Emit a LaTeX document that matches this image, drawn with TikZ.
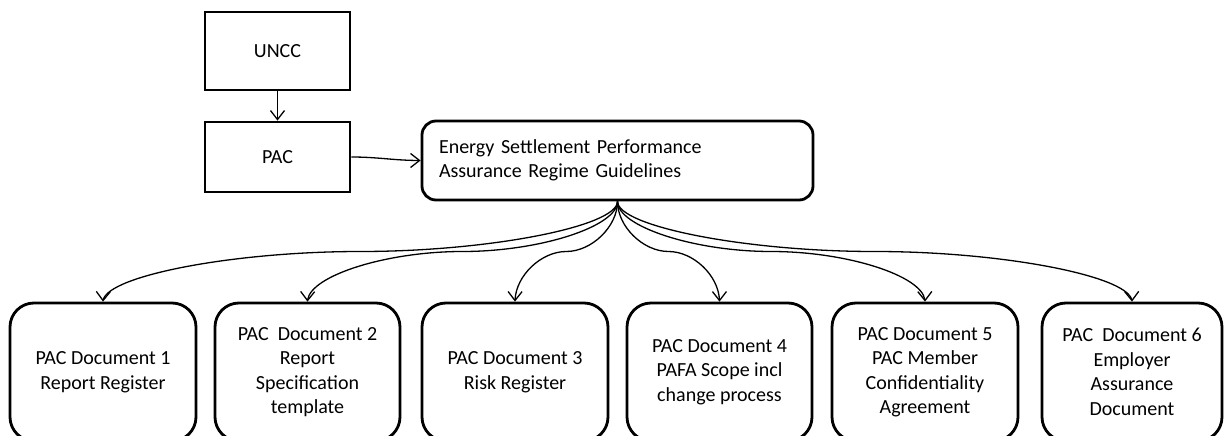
\documentclass[tikz,border=0pt]{standalone}
\usepackage{fontspec}
\setmainfont{Carlito}
\usetikzlibrary{arrows.meta,calc,bending}
\begin{document}
\begin{tikzpicture}[x=1pt,y=-1pt,
  txt/.style={font=\fontsize{20}{24.5}\selectfont},
  sqbox/.style={txt, draw, line width=2.8pt, minimum width=145pt, inner sep=0pt},
  docbox/.style={txt, draw, line width=2.8pt, rounded corners=24pt, minimum height=138pt, inner sep=0pt, align=center},
  conn/.style={line width=1.3pt, -{Straight Barb[length=9pt,width=14pt,flex]}},
  sconn/.style={to path={let \p1=(\tikztostart), \p2=(\tikztotarget) in
    .. controls (\x1,{0.75*\y1+0.25*\y2}) and ({0.75*\x1+0.25*\x2},{0.5*\y1+0.5*\y2})
    .. ({0.5*\x1+0.5*\x2},{0.5*\y1+0.5*\y2})
    .. controls ({0.25*\x1+0.75*\x2},{0.5*\y1+0.5*\y2}) and (\x2,{0.25*\y1+0.75*\y2})
    .. (\tikztotarget)}}
]
\useasboundingbox (0,0) rectangle (1229,436);
\clip (0,0) rectangle (1229,436);

\node[sqbox, minimum height=78pt] (uncc) at (277.5,51) {UNCC};
\node[sqbox, minimum height=70pt] (pac) at (277.5,157) {PAC};
\node[txt, draw, line width=2.8pt, rounded corners=14pt, minimum width=391pt, minimum height=79pt,
      inner xsep=0pt, text width=357pt, align=left] (esp) at (617.5,160.5)
  {Energy Settlement Performance\\Assurance Regime Guidelines};

\node[docbox, minimum width=186pt] (d1) at (103,372) {PAC Document 1\\Report Register};
\node[docbox, minimum width=185pt] (d2) at (307.5,372) {PAC~~Document 2\\Report\\Specification\\template};
\node[docbox, minimum width=186pt] (d3) at (515,372) {PAC Document 3\\Risk Register};
\node[docbox, minimum width=185pt] (d4) at (719.5,372) {PAC Document 4\\PAFA Scope incl\\change process};
\node[docbox, minimum width=186pt] (d5) at (925,372) {PAC Document 5\\PAC Member\\Confidentiality\\Agreement};
\node[docbox, minimum width=180pt] (d6) at (1132,372) {PAC~~Document 6\\Employer\\Assurance\\Document};

\draw[conn] (uncc.south) -- (pac.north);
\draw[conn] (pac.east) to[out=0,in=180] (esp.west);
\foreach \d in {d1,d2,d3,d4,d5,d6}
  \draw[conn] (esp.south) to[sconn] (\d.north);
\end{tikzpicture}
\end{document}
